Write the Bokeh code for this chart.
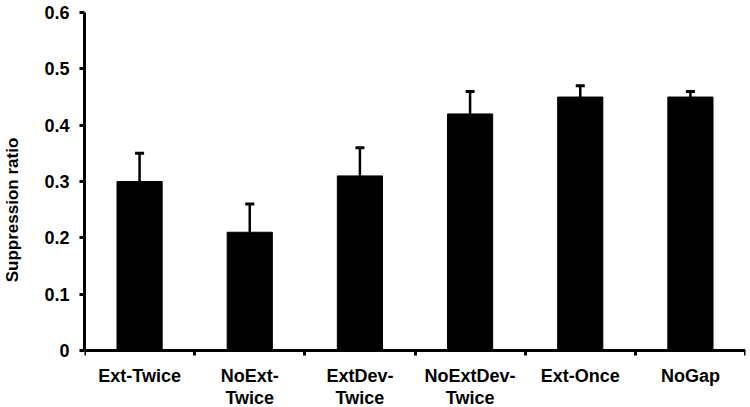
from bokeh.plotting import figure
from bokeh.models import ColumnDataSource, FixedTicker, Whisker, TeeHead, Range1d
from bokeh.embed import file_html
from bokeh.resources import INLINE

categories = ["Ext-Twice", "NoExt-\nTwice", "ExtDev-\nTwice", "NoExtDev-\nTwice", "Ext-Once", "NoGap"]
means = [0.30, 0.21, 0.31, 0.42, 0.45, 0.45]
errors = [0.05, 0.05, 0.05, 0.04, 0.02, 0.01]
y_ticks = [0, 0.1, 0.2, 0.3, 0.4, 0.5, 0.6]
y_tick_labels = ["0", "0.1", "0.2", "0.3", "0.4", "0.5", "0.6"]

n = len(categories)
centers = [i + 0.5 for i in range(n)]
bounds = list(range(n + 1))
upper = [m + e for m, e in zip(means, errors)]

src = ColumnDataSource(dict(x=centers, top=means, upper=upper, lower=means))

# space below y=0 inside the frame holds the category labels
y_bottom = -0.101
p = figure(width=750, height=407, output_backend="svg", toolbar_location=None,
           x_range=Range1d(0, n), y_range=Range1d(y_bottom, 0.6),
           min_border_left=82, min_border_right=5, min_border_top=12, min_border_bottom=0)
p.outline_line_color = None
p.xgrid.visible = False
p.ygrid.visible = False
p.background_fill_color = "white"
p.border_fill_color = "white"

p.vbar(x="x", top="top", width=0.41, bottom=0, source=src, fill_color="black", line_color="black")

w = Whisker(base="x", upper="upper", lower="lower", source=src, dimension="height",
            line_width=2.5, line_color="black",
            upper_head=TeeHead(size=9, line_width=3, line_color="black"), lower_head=None)
p.add_layout(w)

font = "Liberation Sans"

xa = p.xaxis[0]
xa.fixed_location = 0
xa.axis_label = None
xa.ticker = FixedTicker(ticks=centers, minor_ticks=bounds)
xa.major_label_overrides = {c: lab for c, lab in zip(centers, categories)}
xa.major_tick_out = 0
xa.major_tick_in = 0
xa.minor_tick_out = 5
xa.minor_tick_in = 0
xa.minor_tick_line_width = 3
xa.axis_line_width = 3
xa.major_label_standoff = 10
xa.major_label_text_font = font
xa.major_label_text_font_style = "bold"
xa.major_label_text_font_size = "18px"
xa.major_label_text_line_height = 1.12
xa.major_label_text_color = "black"

ya = p.yaxis[0]
ya.bounds = (0, 0.6)
ya.ticker = FixedTicker(ticks=y_ticks, minor_ticks=[])
ya.major_label_overrides = {t: lab for t, lab in zip(y_ticks, y_tick_labels)}
ya.major_tick_out = 5
ya.major_tick_in = 0
ya.major_tick_line_width = 3
ya.axis_line_width = 3
ya.major_label_standoff = 10
ya.major_label_text_font = font
ya.major_label_text_font_style = "bold"
ya.major_label_text_font_size = "18px"
ya.major_label_text_color = "black"
ya.axis_label = "Suppression ratio"
ya.axis_label_text_font = font
ya.axis_label_text_font_style = "bold"
ya.axis_label_text_font_size = "17px"
ya.axis_label_text_color = "black"
ya.axis_label_standoff = 19

open("out.html", "w").write(file_html(p, INLINE))
